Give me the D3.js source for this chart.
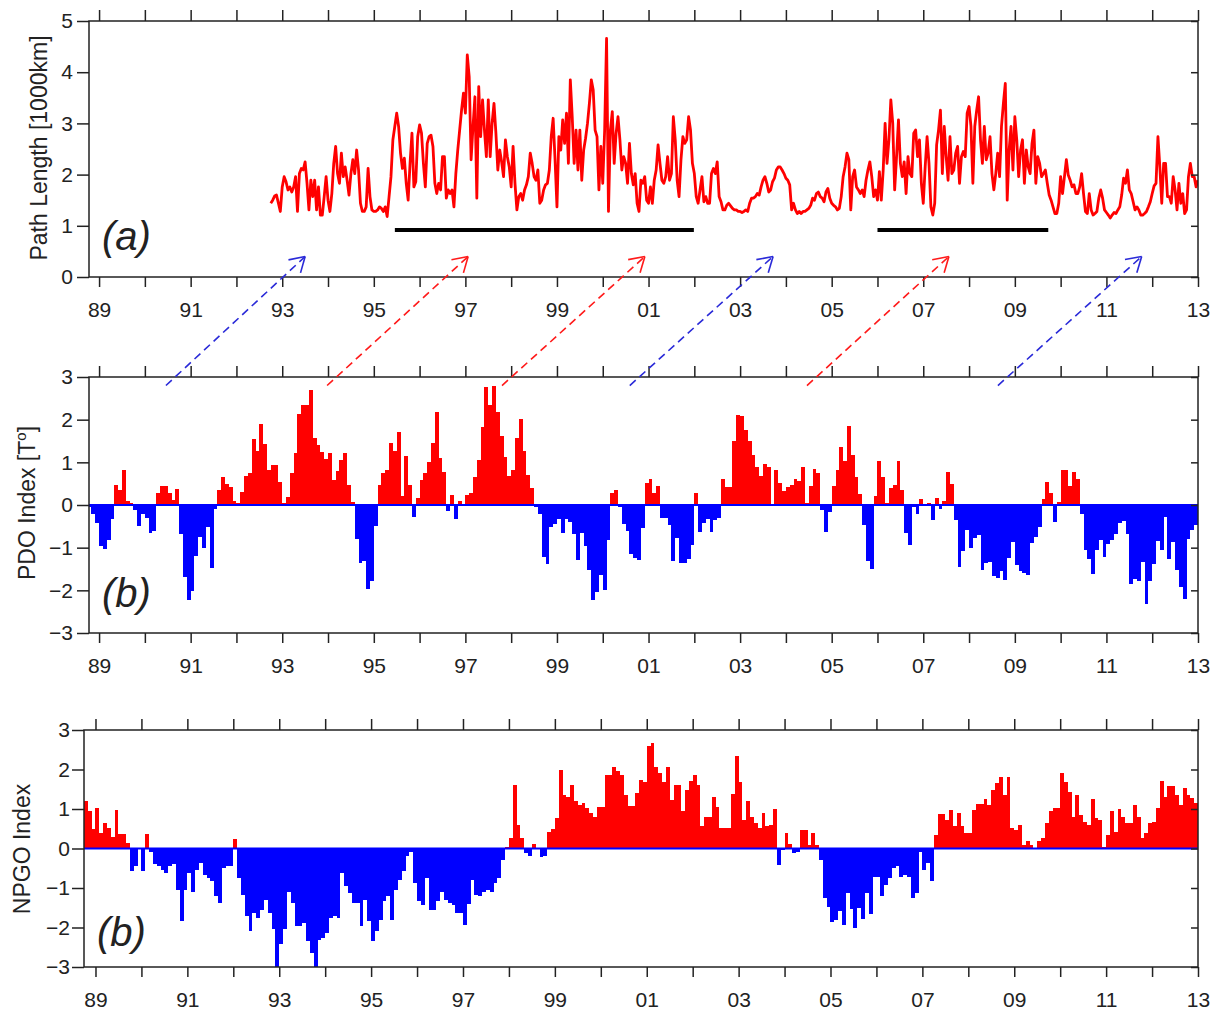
<!DOCTYPE html>
<html>
<head>
<meta charset="utf-8">
<script src="https://cdn.jsdelivr.net/npm/d3@7"></script>
<style>
  body { margin: 0; background: #fff; }
  svg text { font-family: "Liberation Sans", Arial, Helvetica, sans-serif; fill: #222; }
</style>
</head>
<body>
<div id="chart"></div>
<script>
/* global d3 */

// ---- data ----
const years = d3.range(1989, 2014);
const xLabelYears = [1989, 1991, 1993, 1995, 1997, 1999, 2001, 2003, 2005, 2007, 2009, 2011, 2013];
const xTickLabels = ['89', '91', '93', '95', '97', '99', '01', '03', '05', '07', '09', '11', '13'];

const pathTicks = [0, 1, 2, 3, 4, 5];
const indexTicks = [-3, -2, -1, 0, 1, 2, 3];

// path length [1000 km], twice a month from Oct 1992
const pathStart = 1992.75;
const pathStep = 1 / 24;
const pathLength = [
  1.44, 1.50, 1.58, 1.60, 1.44, 1.28, 1.76, 1.96, 1.86, 1.70,
  1.76, 1.66, 1.76, 1.96, 1.28, 2.02, 2.12, 2.09, 2.25, 1.83,
  1.31, 1.89, 1.57, 1.89, 1.31, 1.76, 1.21, 1.21, 1.57, 1.96,
  1.50, 1.28, 1.63, 2.22, 2.55, 2.02, 1.83, 2.42, 1.96, 2.15,
  1.89, 1.60, 2.02, 2.29, 2.02, 2.48, 2.09, 1.44, 1.28, 1.28,
  1.37, 2.12, 1.57, 1.31, 1.28, 1.28, 1.31, 1.37, 1.34, 1.28,
  1.37, 1.18, 1.57, 1.96, 2.68, 2.94, 3.20, 2.94, 2.42, 2.12,
  2.32, 1.83, 1.50, 2.22, 2.81, 1.76, 1.86, 2.74, 2.97, 2.81,
  2.22, 1.76, 2.61, 2.74, 2.77, 2.55, 1.83, 1.63, 1.83, 1.70,
  2.35, 2.35, 1.54, 1.70, 1.63, 1.70, 1.37, 2.02, 2.48, 2.87,
  3.26, 3.59, 3.20, 4.34, 3.91, 2.29, 2.94, 3.52, 1.54, 3.72,
  2.74, 3.46, 2.87, 2.35, 3.46, 2.35, 3.00, 3.39, 2.81, 2.09,
  2.48, 2.25, 1.96, 2.68, 2.35, 2.15, 1.76, 2.55, 1.83, 1.31,
  1.57, 1.63, 1.50, 1.70, 1.80, 1.96, 2.42, 2.22, 1.96, 1.89,
  2.09, 1.44, 1.50, 1.70, 1.80, 1.83, 2.09, 2.74, 3.10, 2.29,
  1.37, 2.74, 2.48, 3.07, 2.61, 3.20, 2.22, 3.85, 3.13, 2.22,
  2.87, 2.09,
  2.87, 1.89, 2.48, 2.71, 3.00, 3.39, 3.85, 3.65, 2.87, 2.74,
  1.70, 2.55, 1.83, 2.87, 4.66, 1.28, 2.87, 3.23, 2.22, 2.81,
  3.13, 2.68, 2.09, 2.35, 2.22, 1.83, 2.61, 2.02, 1.80, 2.02,
  1.44, 1.28, 1.89, 1.83, 1.96, 1.50, 1.44, 1.76, 1.44, 1.89,
  2.09, 2.58, 2.22, 1.89, 1.83, 1.96, 2.35, 1.89, 2.02, 3.13,
  2.68, 1.89, 1.57, 2.29, 2.74, 2.61, 2.68, 3.13, 2.87, 2.22,
  2.02, 1.57, 1.44, 1.70, 1.96, 1.47, 1.57, 1.44, 1.44, 2.02,
  2.12, 2.02, 2.25, 1.57, 1.47, 1.31, 1.31, 1.40, 1.44, 1.39,
  1.34, 1.31, 1.31, 1.28, 1.28, 1.26, 1.28, 1.31, 1.28, 1.44,
  1.54, 1.54, 1.57, 1.63, 1.60, 1.76, 1.89, 1.96, 1.83, 1.66,
  1.70, 1.86, 1.93, 2.09, 2.15, 2.15, 2.09, 2.02, 1.93, 1.89,
  1.80, 1.31, 1.44, 1.31, 1.24, 1.28, 1.24, 1.28, 1.28, 1.31,
  1.34, 1.40, 1.54, 1.50, 1.63, 1.66, 1.57, 1.54, 1.47, 1.66,
  1.73, 1.54, 1.44, 1.40, 1.37, 1.31, 1.34, 1.57, 1.96, 2.15,
  2.42, 2.29, 1.31, 1.96, 2.09, 1.76, 1.70, 1.63, 1.70, 1.57,
  1.89, 2.09, 2.25, 1.96, 1.57, 1.70, 1.50, 2.06, 1.50, 2.09,
  3.00, 2.22, 2.68,
  3.46, 3.00, 1.70, 2.35, 3.07, 2.22, 1.96, 2.25, 1.63, 2.35,
  2.02, 1.96, 2.81, 2.87, 2.35, 2.68, 1.83, 1.44, 2.15, 2.74,
  2.22, 1.37, 1.21, 1.44, 2.58, 2.87, 3.26, 2.02, 2.94, 2.35,
  1.89, 2.74, 2.02, 2.09, 2.42, 2.55, 1.83, 2.35, 2.45, 2.35,
  3.20, 3.33, 2.94, 1.83, 2.94, 3.26, 3.52, 2.68, 2.22, 2.94,
  2.29, 2.42, 2.74, 2.02, 1.70, 2.02, 2.42, 1.96, 2.94, 3.39,
  3.78, 1.50, 2.48, 2.94, 2.09, 3.13, 2.68, 1.96, 2.48, 2.68,
  1.83, 2.48, 2.15, 2.02, 2.61, 2.87, 1.83, 2.35, 2.22, 1.96,
  2.02, 2.09, 1.83, 1.60, 1.50, 1.37, 1.24, 1.24, 1.44, 1.96,
  1.63, 1.96, 2.29, 1.99, 1.89, 1.76, 1.80, 1.63, 1.63, 1.76,
  2.02, 1.63, 1.28, 1.24, 1.63, 1.31, 1.21, 1.24, 1.28, 1.54,
  1.70, 1.54, 1.31, 1.26, 1.21, 1.15, 1.21, 1.26, 1.24, 1.31,
  1.37, 1.60, 1.93, 1.83, 2.09, 1.70, 1.63, 1.47, 1.31, 1.37,
  1.31, 1.21, 1.21, 1.24, 1.28, 1.37, 1.47, 1.63, 1.78, 1.83,
  2.74, 2.15, 1.44, 2.22, 2.22, 1.57, 1.57, 1.44, 1.96, 1.70,
  1.31, 1.83, 1.44, 1.63, 1.24, 1.31, 1.96, 2.22, 1.96, 1.96,
  1.76, 1.89
];

// periods marked with black bars in (a)
const periodStart = [1995.46, 2006.0];
const periodEnd = [2001.99, 2009.73];
const periodLevel = 0.92;

// monthly PDO index, Oct 1988 - Dec 2012
const pdoStart = 1988.75;
const pdoValues = [
  -0.05, -0.20, -0.43,
  -0.95, -1.02, -0.83, -0.32, 0.47, 0.36, 0.83, 0.09, 0.05, -0.12, -0.50, -0.21,
  -0.30, -0.65, -0.62, 0.27, 0.44, 0.44, 0.27, 0.11, 0.38, -0.69, -1.69, -2.23,
  -2.02, -1.19, -0.74, -1.01, -0.51, -1.47, -0.10, 0.36, 0.65, 0.49, 0.42, 0.09,
  0.05, 0.31, 0.67, 0.75, 1.54, 1.26, 1.90, 1.44, 0.83, 0.93, 0.93, 0.53,
  0.05, 0.19, 0.76, 1.21, 2.13, 2.34, 2.35, 2.69, 1.56, 1.41, 1.24, 1.07,
  1.21, 0.59, 0.80, 1.05, 1.23, 0.46, 0.06, -0.79, -1.36, -1.32, -1.96, -1.79,
  -0.49, 0.46, 0.75, 0.83, 1.46, 1.27, 1.71, 0.21, 1.16, 0.47, -0.28, 0.16,
  0.59, 0.75, 1.01, 1.46, 2.18, 1.10, 0.77, -0.14, 0.24, -0.33, 0.09, -0.03,
  0.23, 0.28, 0.65, 1.05, 1.83, 2.76, 2.35, 2.79, 2.19, 1.61, 1.12, 0.67,
  0.83, 1.56, 2.01, 1.27, 0.70, 0.40, -0.04, -0.22, -1.21, -1.39, -0.52, -0.44,
  -0.32, -0.66, -0.33, -0.41, -0.68, -1.30, -0.66, -0.96, -1.53, -2.23, -2.05, -1.63,
  -2.00, -0.83, 0.29, 0.35, -0.05, -0.44, -0.60, -1.15, -1.25, -1.30, -0.53, 0.52,
  0.60, 0.29, 0.45, -0.31, -0.30, -0.47, -1.31, -0.77, -1.37, -1.37, -1.26, -0.93,
  0.27, -0.64, -0.43, -0.32, -0.63, -0.35, -0.31, 0.60, 0.43, 0.42, 1.51, 2.10,
  2.09, 1.75, 1.51, 1.18, 0.89, 0.68, 0.96, 0.88, 0.01, 0.83, 0.52, 0.33,
  0.43, 0.48, 0.61, 0.57, 0.88, 0.04, 0.44, 0.85, 0.75, -0.11, -0.63, -0.17,
  0.44, 0.81, 1.36, 1.03, 1.86, 1.17, 0.66, 0.25, -0.46, -1.32, -1.50, 0.20,
  1.03, 0.66, 0.05, 0.40, 0.48, 1.04, 0.35, -0.65, -0.94, -0.05, -0.22, 0.14,
  0.01, 0.04, -0.36, 0.16, -0.10, 0.09, 0.78, 0.50, -0.36, -1.45, -1.08, -0.58,
  -1.00, -0.77, -0.71, -1.52, -1.37, -1.34, -1.67, -1.70, -1.55, -1.76, -1.25, -0.87,
  -1.40, -1.55, -1.59, -1.65, -0.88, -0.76, -0.52, 0.13, 0.55, 0.29, -0.40, 0.08,
  0.83, 0.82, 0.44, 0.78, 0.62, -0.22, -1.05, -1.27, -1.61, -1.06, -0.82, -1.21,
  -0.92, -0.83, -0.69, -0.42, -0.37, -0.69, -1.86, -1.74, -1.79, -1.34, -2.33, -1.79,
  -1.38, -0.85, -1.05, -0.27, -1.26, -0.87, -1.52, -1.93, -2.21, -0.79, -0.59, -0.48
];

// monthly NPGO index, Oct 1988 - Dec 2012
const npgoStart = 1988.75;
const npgoValues = [
  1.19, 0.94, 0.50,
  1.02, 0.39, 0.64, 0.51, 0.30, 0.98, 0.37, 0.37, 0.15, -0.58, -0.45, -0.02,
  -0.58, 0.37, -0.08, -0.39, -0.45, -0.54, -0.62, -0.45, -0.40, -1.04, -1.84, -1.04,
  -0.62, -1.09, -0.54, -0.37, -0.67, -0.75, -0.83, -1.21, -1.38, -0.50, -0.45, -0.45,
  0.24, -0.75, -1.17, -1.72, -2.10, -1.63, -1.76, -1.55, -1.30, -1.63, -2.05, -3.00,
  -2.43, -2.05, -1.09, -1.38, -1.97, -1.97, -1.89, -2.35, -2.65, -3.00, -2.31, -2.27,
  -2.14, -1.76, -1.70, -1.75, -0.62, -0.96, -1.13, -1.38, -1.38, -1.97, -1.30, -1.84,
  -2.35, -2.10, -1.80, -1.34, -1.21, -1.80, -1.04, -0.79, -0.58, -0.20, -0.10, -0.88,
  -1.34, -1.42, -0.75, -1.55, -1.55, -1.34, -1.09, -1.30, -1.38, -1.42, -1.63, -1.63,
  -1.93, -1.40, -0.79, -1.17, -1.21, -1.09, -1.05, -1.09, -0.88, -0.75, -0.30, 0.05,
  0.26, 1.60, 0.60, 0.26, -0.12, -0.19, 0.12, 0.02, -0.22, -0.19, 0.43, 0.49,
  0.77, 2.00, 1.36, 1.31, 1.61, 1.19, 1.10, 1.15, 1.02, 0.89, 0.81, 1.04,
  1.04, 1.87, 1.87, 2.06, 1.95, 1.87, 1.36, 1.08, 1.08, 1.40, 1.74, 1.69,
  2.60, 2.66, 2.07, 1.90, 1.69, 2.07, 1.23, 1.61, 1.61, 0.94, 1.48, 1.71,
  1.86, 1.61, 0.56, 0.81, 0.81, 1.31, 1.06, 0.51, 0.51, 0.51, 1.38, 2.34,
  1.69, 0.72, 1.19, 0.81, 0.64, 0.51, 0.91, 0.56, 0.60, 0.99, -0.41, -0.05,
  0.39, 0.12, -0.12, -0.10, 0.47, 0.47, 0.09, 0.39, 0.09, -0.29, -1.26, -1.47,
  -1.87, -1.80, -1.59, -1.93, -1.13, -1.53, -2.01, -1.51, -1.78, -1.13, -1.66, -0.71,
  -0.71, -1.21, -0.92, -0.75, -0.50, -0.45, -0.71, -0.67, -0.71, -1.26, -1.13, -0.08,
  -0.54, -0.37, -0.83, 0.35, 0.88, 0.88, 0.72, 0.98, 0.56, 0.91, 0.57, 0.39,
  0.39, 0.98, 1.13, 1.13, 1.26, 1.10, 1.48, 1.67, 1.80, 1.36, 1.80, 0.51,
  0.47, 0.60, 0.09, 0.18, 0.09, 0.02, 0.20, 0.26, 0.64, 0.96, 1.02, 1.02,
  1.92, 1.69, 1.44, 0.81, 1.36, 0.85, 0.68, 0.60, 1.25, 0.77, 0.72, 0.05,
  0.35, 0.94, 0.43, 0.99, 0.81, 0.64, 0.64, 1.10, 0.81, 0.26, 0.39, 0.64,
  0.68, 1.02, 1.71, 1.31, 1.57, 1.57, 1.36, 1.10, 1.52, 1.36, 1.27, 1.15
];

// lag arrows: from PDO panel (year, index) to path-length panel (year, value)
const arrowFrom = [1990.46, 1993.98, 1997.80, 2000.59, 2004.46, 2008.63];
const arrowTo = [1993.50, 1997.06, 2000.92, 2003.72, 2007.56, 2011.77];
const arrowColor = ['#2a2ad8', '#ff1a1a', '#ff1a1a', '#2a2ad8', '#ff1a1a', '#2a2ad8'];
const arrowFromLevel = 2.8;
const arrowToLevel = 0.4;

// ---- layout ----
const W = 1213, H = 1010;
const panels = {
  a: { left: 89, right: 1198, top: 21, bottom: 277, t0: 1988.78, t1: 2013.0, y: [0, 5], ticks: pathTicks, pad: 4 },
  b: { left: 89, right: 1198, top: 377, bottom: 633, t0: 1988.78, t1: 2013.0, y: [-3, 3], ticks: indexTicks, pad: 4 },
  c: { left: 84, right: 1198, top: 730, bottom: 967, t0: 1988.75, t1: 2013.0, y: [-3, 3], ticks: indexTicks, pad: 2 }
};

const svg = d3.select('#chart').append('svg')
  .attr('width', W)
  .attr('height', H);

const fmtY = d => d < 0 ? '\u2212' + Math.abs(d) : String(d);
const fmtX = d => {
  const i = xLabelYears.indexOf(d);
  return i >= 0 ? xTickLabels[i] : '';
};

function setup(key) {
  const p = panels[key];
  p.x = d3.scaleLinear().domain([p.t0, p.t1]).range([p.left, p.right]);
  p.yS = d3.scaleLinear().domain(p.y).range([p.bottom, p.top]);
  svg.append('clipPath').attr('id', 'clip-' + key)
    .append('rect')
    .attr('x', p.left).attr('y', p.top)
    .attr('width', p.right - p.left).attr('height', p.bottom - p.top);
  p.g = svg.append('g').attr('clip-path', `url(#clip-${key})`);
  return p;
}

function drawAxes(p) {
  const style = sel => {
    sel.select('.domain').remove();
    sel.selectAll('line').attr('stroke', '#222').attr('stroke-width', 1.5);
    sel.selectAll('text').attr('fill', '#222').style('font-size', '21px');
  };
  svg.append('g').attr('transform', `translate(0,${p.bottom})`)
    .call(d3.axisBottom(p.x).tickValues(years).tickSize(10).tickPadding(15).tickFormat(fmtX))
    .call(style);
  svg.append('g').attr('transform', `translate(0,${p.top})`)
    .call(d3.axisTop(p.x).tickValues(years).tickSize(11).tickFormat(''))
    .call(style);
  svg.append('g').attr('transform', `translate(${p.left},0)`)
    .call(d3.axisLeft(p.yS).tickValues(p.ticks).tickSize(12).tickPadding(p.pad).tickFormat(fmtY))
    .call(style);
  svg.append('g').attr('transform', `translate(${p.right},0)`)
    .call(d3.axisLeft(p.yS).tickValues(p.ticks).tickSize(7).tickFormat(''))
    .call(style);
  svg.append('rect')
    .attr('x', p.left).attr('y', p.top)
    .attr('width', p.right - p.left).attr('height', p.bottom - p.top)
    .attr('fill', 'none').attr('stroke', '#222').attr('stroke-width', 1.5);
}

function drawBars(p, start, values) {
  const bx = i => Math.round(p.x(start + i / 12));
  p.g.selectAll('rect.bar')
    .data(values)
    .enter().append('rect')
    .attr('class', 'bar')
    .attr('shape-rendering', 'crispEdges')
    .attr('x', (d, i) => bx(i))
    .attr('width', (d, i) => bx(i + 1) - bx(i))
    .attr('y', d => p.yS(Math.max(d, 0)))
    .attr('height', d => Math.abs(p.yS(d) - p.yS(0)))
    .attr('fill', d => d > 0 ? '#ff0000' : '#0000ff');
  p.g.append('line')
    .attr('x1', p.left).attr('x2', p.right)
    .attr('y1', p.yS(0)).attr('y2', p.yS(0))
    .attr('stroke', '#0000ff').attr('stroke-width', 2);
}

// ---- (a) path length ----
const pa = setup('a');
pa.g.append('path')
  .datum(pathLength)
  .attr('fill', 'none')
  .attr('stroke', '#ff0000')
  .attr('stroke-width', 2.8)
  .attr('stroke-linejoin', 'round')
  .attr('d', d3.line()
    .x((d, i) => pa.x(pathStart + i * pathStep))
    .y(d => pa.yS(d)));

pa.g.selectAll('line.period')
  .data(periodStart)
  .enter().append('line')
  .attr('x1', d => pa.x(d))
  .attr('x2', (d, i) => pa.x(periodEnd[i]))
  .attr('y1', pa.yS(periodLevel)).attr('y2', pa.yS(periodLevel))
  .attr('stroke', '#000').attr('stroke-width', 4);
drawAxes(pa);

// ---- (b) PDO ----
const pb = setup('b');
drawBars(pb, pdoStart, pdoValues);
drawAxes(pb);

// ---- (c) NPGO ----
const pc = setup('c');
drawBars(pc, npgoStart, npgoValues);
drawAxes(pc);

// ---- axis titles and panel letters ----
function yTitle(x, y, parts) {
  const t = svg.append('text')
    .attr('transform', `translate(${x},${y}) rotate(-90)`)
    .attr('text-anchor', 'middle')
    .style('font-size', '23px');
  parts.forEach(pt => {
    t.append('tspan').text(pt.s)
      .attr('dy', pt.dy || 0)
      .style('font-size', pt.size || null);
  });
}
yTitle(47, 148, [{ s: 'Path Length [1000km]' }]);
yTitle(35, 503, [{ s: 'PDO Index [T' }, { s: 'o', dy: -9, size: '15px' }, { s: ']', dy: 9 }]);
yTitle(30, 849, [{ s: 'NPGO Index' }]);

const letters = [
  { s: '(a)', x: 102, y: 250 },
  { s: '(b)', x: 102, y: 607 },
  { s: '(b)', x: 97, y: 946 }
];
svg.selectAll('text.letter')
  .data(letters)
  .enter().append('text')
  .attr('class', 'letter')
  .attr('x', d => d.x).attr('y', d => d.y)
  .style('font-size', '40px')
  .style('font-style', 'italic')
  .text(d => d.s);

// ---- lag arrows ----
arrowFrom.forEach((t0, i) => {
  const x0 = pb.x(t0), y0 = pb.yS(arrowFromLevel);
  const x1 = pa.x(arrowTo[i]), y1 = pa.yS(arrowToLevel);
  const c = arrowColor[i];
  svg.append('line')
    .attr('x1', x0).attr('y1', y0).attr('x2', x1).attr('y2', y1)
    .attr('stroke', c).attr('stroke-width', 1.6)
    .attr('stroke-dasharray', '8,5');
  const ang = Math.atan2(y0 - y1, x0 - x1);
  [-0.55, 0.55].forEach(da => {
    svg.append('line')
      .attr('x1', x1).attr('y1', y1)
      .attr('x2', x1 + 17 * Math.cos(ang + da))
      .attr('y2', y1 + 17 * Math.sin(ang + da))
      .attr('stroke', c).attr('stroke-width', 1.6);
  });
});
</script>
</body>
</html>
